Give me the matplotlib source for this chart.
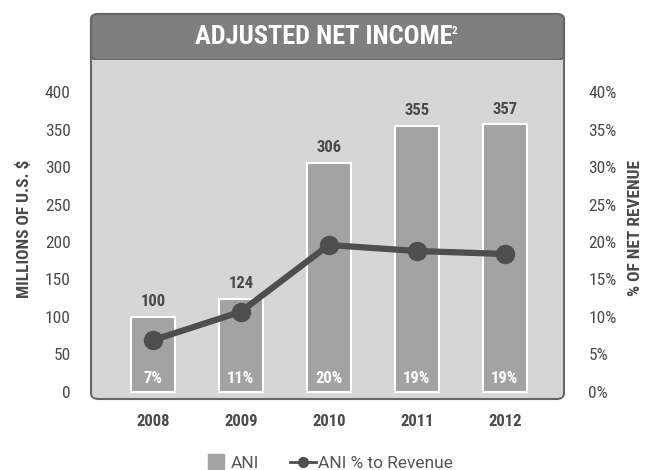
import matplotlib.pyplot as plt
from matplotlib.patches import FancyBboxPatch
from matplotlib.lines import Line2D

years = ["2008", "2009", "2010", "2011", "2012"]
ani = [100, 124, 306, 355, 357]
pct = [6.9, 10.7, 19.6, 18.8, 18.4]
pct_labels = ["7%", "11%", "20%", "19%", "19%"]
left_ticks = [0, 50, 100, 150, 200, 250, 300, 350, 400]
right_ticks = [0, 5, 10, 15, 20, 25, 30, 35, 40]

plt.rcParams['font.family'] = ['Roboto Condensed', 'Liberation Sans Narrow', 'DejaVu Sans']

text_col = "#4a4a4a"
bar_col = "#a3a3a3"
bg_col = "#d6d6d6"
line_col = "#4e4e4e"

fig = plt.figure(figsize=(6.49, 4.70), dpi=100)
ax = fig.add_axes([93/649, 73/470, 469/649, 337/470])
ax.set_facecolor(bg_col)

# frame + title banner drawn in figure coords
frame = FancyBboxPatch((91/649, 71/470), 473/649, 385/470,
                       boxstyle="round,pad=0,rounding_size=0.012",
                       transform=fig.transFigure, facecolor=bg_col,
                       edgecolor="#666666", lw=1.5, zorder=-2)
fig.patches.append(frame)
banner = FancyBboxPatch((91/649, 410/470), 473/649, 46/470,
                        boxstyle="round,pad=0,rounding_size=0.012",
                        transform=fig.transFigure, facecolor="#7f7f7f",
                        edgecolor="#666666", lw=1.5, zorder=-1)
fig.patches.append(banner)
fig.text(324/649, 1 - 37/470, "ADJUSTED NET INCOME", color="white",
         fontsize=19, fontweight="bold", ha="center", va="center")
fig.text(452/649, 1 - 31/470, "2", color="white", fontsize=8,
         fontweight="bold", ha="left", va="center")

x = list(range(len(years)))
ax.bar(x, ani, width=0.5, color=bar_col, edgecolor="white", linewidth=1.5, zorder=2)
for xi, v, pl in zip(x, ani, pct_labels):
    ax.text(xi, v + 10, str(v), ha="center", va="bottom", fontsize=12,
            fontweight="bold", color=text_col, zorder=4)
    ax.text(xi, 18, pl, ha="center", va="center", fontsize=12,
            fontweight="bold", color="white", zorder=4)

ax.set_xlim(-0.68, 4.65)
ax.set_ylim(-6.7, 442.7)
ax.set_xticks(x)
ax.set_xticklabels(years, fontweight="bold", fontsize=12, color=text_col)
ax.set_yticks(left_ticks)
ax.set_yticklabels([str(t) for t in left_ticks], fontsize=12.5, color=text_col)
ax.tick_params(axis="both", length=0)
ax.tick_params(axis="y", pad=16)
ax.tick_params(axis="x", pad=12)
for s in ax.spines.values():
    s.set_visible(False)
ax.set_ylabel("MILLIONS OF U.S. $", fontsize=12.5, fontweight="bold", color=text_col, labelpad=9)

ax2 = ax.twinx()
ax2.plot(x, pct, color=line_col, lw=4.5, marker="o", markersize=13, zorder=5)
ax2.set_ylim(-0.67, 44.27)
ax2.set_yticks(right_ticks)
ax2.set_yticklabels([f"{t}%" for t in right_ticks], fontsize=12.5, color=text_col)
ax2.tick_params(axis="y", length=0, pad=19)
for s in ax2.spines.values():
    s.set_visible(False)
ax2.set_ylabel("% OF NET REVENUE", fontsize=12.5, fontweight="bold", color=text_col,
               rotation=90, labelpad=8)

handles = [Line2D([0], [0], color=bar_col, marker="s", markersize=11, linestyle="none"),
           Line2D([0], [0], color=line_col, lw=2, marker="o", markersize=7)]
fig.legend(handles, ["ANI", "ANI % to Revenue"], loc="center",
           bbox_to_anchor=(328/649, 1 - 463/470), ncol=2, frameon=False,
           prop={"family": ["Roboto", "DejaVu Sans"], "size": 12.5},
           labelcolor="#555555", handlelength=1.5, columnspacing=1.8,
           handletextpad=0.1)

fig.savefig("out.png", dpi=100, facecolor="white")
